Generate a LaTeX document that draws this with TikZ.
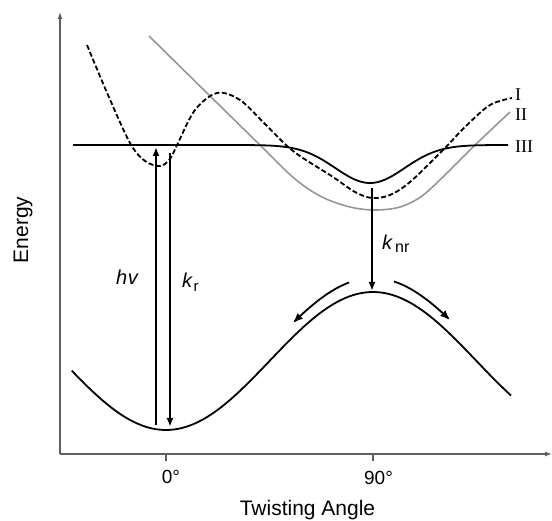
\documentclass[tikz,border=0pt]{standalone}
\usepackage{fontspec}
\setmainfont{Liberation Sans}
\newfontfamily\romanfont{Liberation Serif}
\usetikzlibrary{arrows.meta}
\definecolor{axisgray}{RGB}{95,95,95}
\definecolor{curvegray}{RGB}{150,150,150}
\begin{document}
\begin{tikzpicture}[x=1pt,y=-1pt,
  axisline/.style={draw=axisgray,line width=1.2pt},
  axisarrow/.style={axisline,-{Latex[length=7pt,width=5pt]}},
  curve/.style={draw=black,line width=1.8pt},
  graycurve/.style={draw=curvegray,line width=1.6pt},
  dashcurve/.style={draw=black,line width=1.8pt,dash pattern=on 5pt off 2.5pt},
  trans/.style={draw=black,line width=1.8pt,-{Latex[length=9pt,width=7pt]}},
  bend arrow/.style={draw=black,line width=1.8pt,-{Latex[length=10pt,width=8pt]}},
  tick label/.style={font=\fontsize{19}{19}\selectfont,anchor=base,inner sep=0pt},
  axis label/.style={font=\fontsize{21}{21}\selectfont,inner sep=0pt},
  state label/.style={font=\romanfont\fontsize{18}{18}\selectfont,anchor=base west,inner sep=0pt},
  rate label/.style={font=\fontsize{20}{20}\selectfont\itshape,anchor=base west,inner sep=0pt}]
\useasboundingbox (0,0) rectangle (552,521);
% axes
\coordinate (O) at (60,454);
\coordinate (ytop) at (60,12);
\coordinate (xend) at (552,454);
\draw[axisarrow] (O) -- (ytop);
\draw[axisarrow] (O) -- (xend);
\coordinate (t0a) at (166,454); \coordinate (t0b) at (166,461);
\coordinate (t90a) at (373,454); \coordinate (t90b) at (373,461);
\draw[axisline] (t0a) -- (t0b);
\draw[axisline] (t90a) -- (t90b);
\node[tick label] (l0) at (171,483) {0°};
\node[tick label] (l90) at (378.5,484) {90°};
\node[axis label,anchor=base] (xl) at (307.5,515.5) {Twisting Angle};
\node[axis label,rotate=90] (yl) at (23,230) {Energy};
% ground state
\draw[curve] plot[domain=-41:150,samples=120] ({166+2.3*\x},{361+69*cos(2*\x)});
% state II (gray)
\draw[graycurve] plot[smooth,tension=0.55] coordinates {(149,36) (210,96) (262,147) (295,179) (322,197) (350,207) (375,210) (400,207) (422,196) (447,173) (473,147) (510,112)};
% state I (dashed)
\draw[dashcurve] plot[smooth,tension=0.55] coordinates {(87,45) (108,95) (130,143) (145,161) (160,166) (170,159) (178,143) (195,110) (217,93) (240,100) (265,124) (293,151) (333,177) (355,192) (372,198) (390,195) (410,182) (442,151) (466,126) (490,105) (512,98)};
% state III
\draw[curve] (73,145) -- (250,145.1) -- plot[domain=250:508,samples=100] (\x,{145+38*exp(-((\x-370)/49)^2)});
% labels of states
\node[state label] (sI) at (515,101) {I};
\node[state label] (sII) at (515,121) {II};
\node[state label] (sIII) at (515,153) {III};
% transitions
\coordinate (hvS) at (156,425); \coordinate (hvE) at (156,147);
\coordinate (krS) at (170,153); \coordinate (krE) at (170,427);
\coordinate (nrS) at (372,188); \coordinate (nrE) at (372,291);
\draw[trans] (hvS) -- (hvE);
\draw[trans] (krS) -- (krE);
\draw[trans] (nrS) -- (nrE);
\node[rate label] (hv) at (116,285) {h\kern0.5pt v};
\node[rate label] (kr) at (182,288) {k\kern1.5pt\raisebox{-4pt}{\fontsize{15}{15}\selectfont\upshape r}};
\node[rate label] (knr) at (382,250) {k\kern3pt\raisebox{-3pt}{\fontsize{16}{16}\selectfont\upshape nr}};
% relaxation arrows
\draw[bend arrow] plot[domain=79.6:55.2,samples=30] ({166+2.3*\x},{347+69*cos(2*\x)});
\draw[bend arrow] plot[domain=99.1:123.5,samples=30] ({166+2.3*\x},{347+69*cos(2*\x)});
\end{tikzpicture}
\end{document}
